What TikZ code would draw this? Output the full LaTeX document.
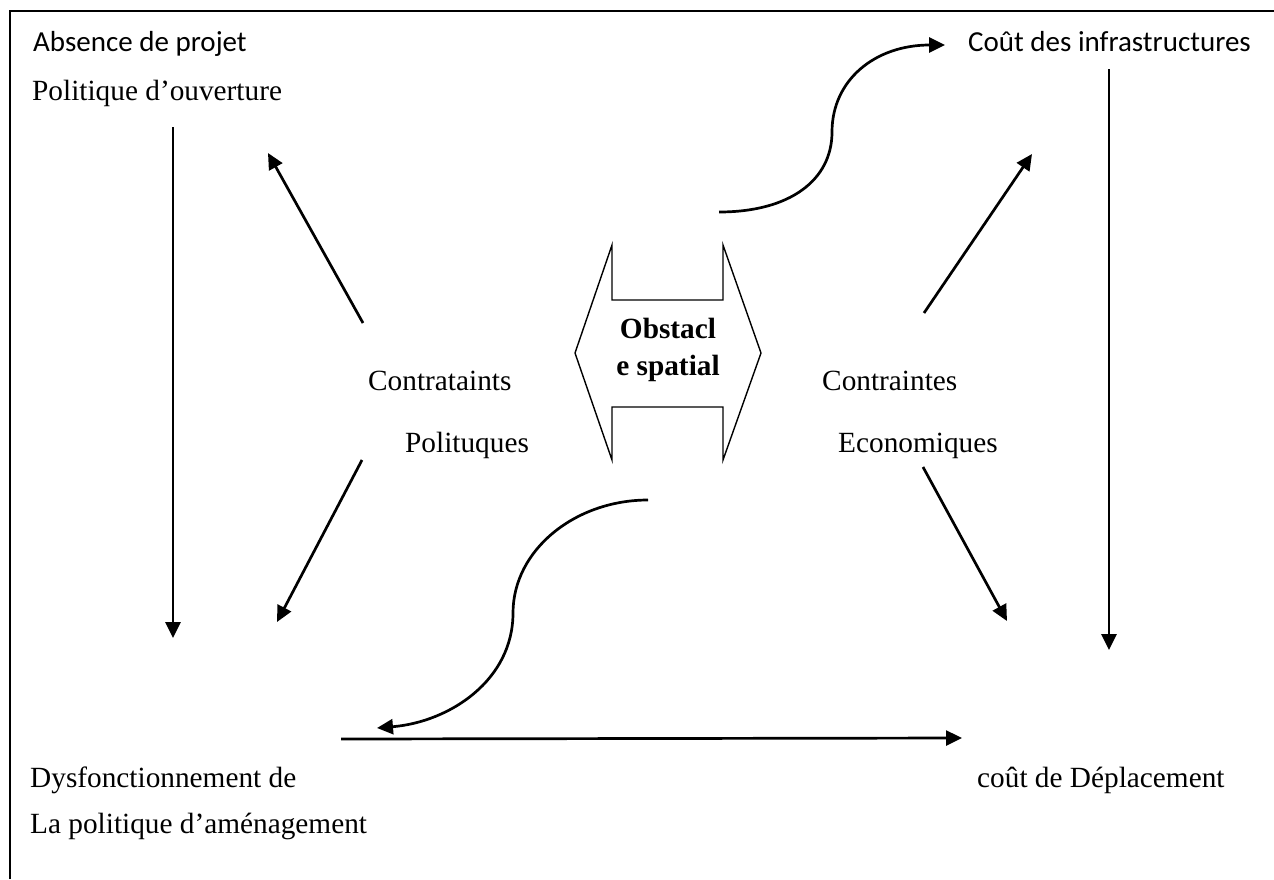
\documentclass[tikz,border=0pt]{standalone}
\usepackage{fontspec}
\setmainfont{Liberation Serif}
\newfontfamily\calfont{Carlito}
\usetikzlibrary{arrows.meta}
\begin{document}
\begin{tikzpicture}[x=1pt,y=-1pt,
  lbl/.style={anchor=base west, inner sep=0pt, font=\fontsize{29.3}{36}\selectfont},
  cal/.style={anchor=base west, inner sep=0pt, font=\calfont\fontsize{29}{35}\selectfont},
  conn/.style={line width=2.7pt, -{Triangle[length=16pt,width=15pt]}},
  frameline/.style={line width=2.2pt},
  outline/.style={line width=1.4pt, line join=miter}]
\useasboundingbox (0,0) rectangle (1274,879);
% frame
\draw[frameline] (10,879) -- (10,11) -- (1274,11);
% labels
\node[cal] (absence) at (33,51) {Absence de projet};
\node[lbl] (ouverture) at (32,100) {Politique d’ouverture};
\node[cal] (infra) at (968,51) {Coût des infrastructures};
\node[lbl] (contpol1) at (368,390) {Contrataints};
\node[lbl] (contpol2) at (405,452) {Polituques};
\node[lbl] (conteco1) at (822,390) {Contraintes};
\node[lbl] (conteco2) at (838,452) {Economiques};
\node[lbl] (dysf1) at (30,787) {Dysfonctionnement de};
\node[lbl] (dysf2) at (30,833) {La politique d’aménagement};
\node[lbl] (depl) at (977,787) {coût de Déplacement};
% central double arrow shape
\draw[outline] (575,353) -- (612,245) -- (612,300) -- (723,300) -- (723,245)
  -- (761,353) -- (723,460) -- (723,407) -- (612,407) -- (612,460) -- cycle;
\node[align=center, inner sep=0pt, font=\bfseries\fontsize{29.3}{36.5}\selectfont] (obst) at (668,350) {Obstacl\\e spatial};
% endpoint coordinates
\coordinate (a1s) at (173,127); \coordinate (a1e) at (173,638);
\coordinate (a2s) at (363,323); \coordinate (a2e) at (268,153);
\coordinate (a3s) at (362,460); \coordinate (a3e) at (277,622);
\coordinate (a4s) at (924,313); \coordinate (a4e) at (1032,154);
\coordinate (a5s) at (923,467); \coordinate (a5e) at (1007,621);
\coordinate (a6s) at (1109,69); \coordinate (a6e) at (1109,650);
\coordinate (a7s) at (341,739); \coordinate (a7e) at (962,738);
\coordinate (c1s) at (719,212); \coordinate (c1m) at (832,132); \coordinate (c1e) at (945,45);
\coordinate (c2s) at (648,500); \coordinate (c2m) at (513,613); \coordinate (c2e) at (377,728);
% straight connectors
\draw[conn] (a1s) -- (a1e);
\draw[conn] (a2s) -- (a2e);
\draw[conn] (a3s) -- (a3e);
\draw[conn] (a4s) -- (a4e);
\draw[conn] (a5s) -- (a5e);
\draw[conn] (a6s) -- (a6e);
\draw[conn] (a7s) -- (a7e);
% curved connectors
\draw[conn] (c1s) .. controls (790,212) and (832,180) .. (c1m) .. controls (832,80) and (875,45) .. (c1e);
\draw[conn] (c2s) .. controls (575,500) and (513,550) .. (c2m) .. controls (513,680) and (450,722) .. (c2e);
\end{tikzpicture}
\end{document}
